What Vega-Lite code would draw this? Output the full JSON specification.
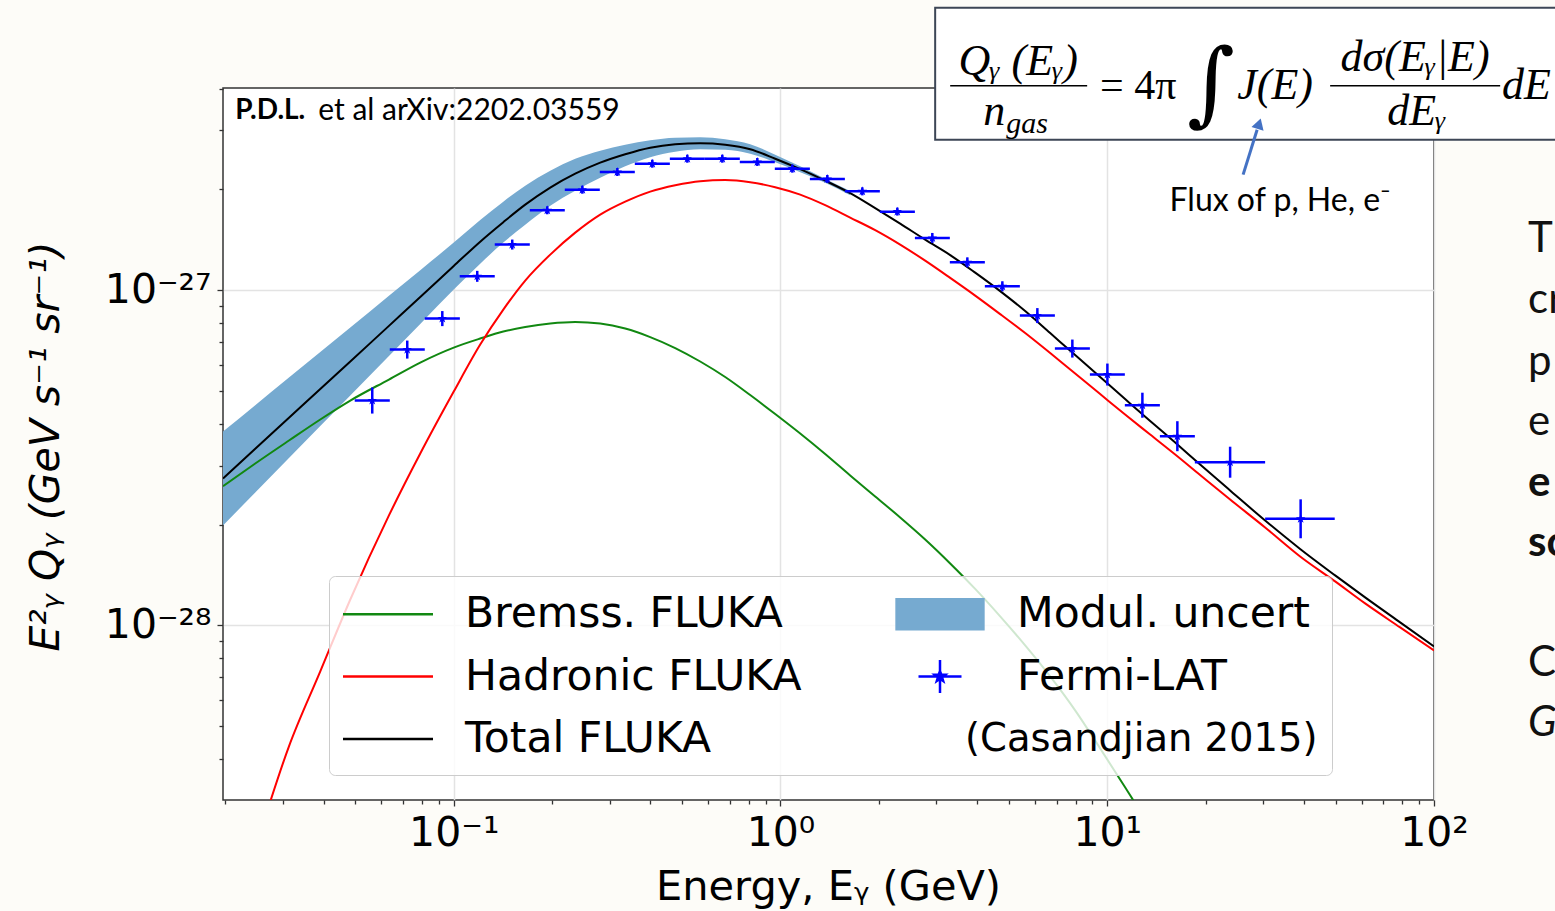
{
  "$schema": "https://vega.github.io/schema/vega-lite/v6.json",
  "width": 1211,
  "height": 712,
  "autosize": {"type": "none"},
  "padding": {"left": 223, "top": 88, "right": 121, "bottom": 111},
  "background": "#fdfcf8",
  "config": {
    "view": {"fill": "#ffffff", "stroke": "#333333", "strokeWidth": 1.5},
    "axis": {"domain": false, "labelFont": "DejaVu Sans", "titleFont": "DejaVu Sans", "labelColor": "#000000", "titleColor": "#000000", "titleFontWeight": "normal", "tickColor": "#333333", "tickWidth": 1.3, "gridColor": "#e3e3e3", "gridWidth": 1.5}
  },
  "encoding": {
    "x": {"field": "E", "type": "quantitative", "scale": {"type": "log", "domain": [0.01967, 100], "nice": false},
      "axis": {"grid": true, "values": [0.02, 0.03, 0.04, 0.05, 0.06, 0.07, 0.08, 0.09, 0.1, 0.2, 0.3, 0.4, 0.5, 0.6, 0.7, 0.8, 0.9, 1, 2, 3, 4, 5, 6, 7, 8, 9, 10, 20, 30, 40, 50, 60, 70, 80, 90, 100],
        "labelExpr": "datum.value == 0.1 ? '10⁻¹' : datum.value == 1 ? '10⁰' : datum.value == 10 ? '10¹' : datum.value == 100 ? '10²' : ''",
        "tickSize": {"condition": {"test": "abs(log(datum.value)/LN10 - round(log(datum.value)/LN10)) < 0.001", "value": 6}, "value": 4},
        "gridOpacity": {"condition": {"test": "abs(log(datum.value)/LN10 - round(log(datum.value)/LN10)) < 0.001", "value": 1}, "value": 0},
        "labelFontSize": 41, "labelPadding": 7, "labelOverlap": false, "labelFlush": false,
        "title": "Energy, Eᵧ (GeV)", "titleFontSize": 41.5, "titleX": 605, "titleY": 99, "titleBaseline": "alphabetic", "titleAlign": "center"}},
    "y": {"field": "Q", "type": "quantitative", "scale": {"type": "log", "domain": [3.013e-29, 4.015e-27], "nice": false},
      "axis": {"grid": true, "values": [4e-29, 5e-29, 6e-29, 7e-29, 8e-29, 9e-29, 1e-28, 2e-28, 3e-28, 4e-28, 5e-28, 6e-28, 7e-28, 8e-28, 9e-28, 1e-27, 2e-27, 3e-27, 4e-27],
        "labelExpr": "datum.value == 1e-27 ? '10⁻²⁷' : datum.value == 1e-28 ? '10⁻²⁸' : ''",
        "tickSize": {"condition": {"test": "abs(log(datum.value)/LN10 - round(log(datum.value)/LN10)) < 0.001", "value": 6}, "value": 4},
        "gridOpacity": {"condition": {"test": "abs(log(datum.value)/LN10 - round(log(datum.value)/LN10)) < 0.001", "value": 1}, "value": 0},
        "labelFontSize": 41, "labelPadding": 6, "labelOverlap": false, "labelFlush": false,
        "title": "E²ᵧ Qᵧ (GeV s⁻¹ sr⁻¹)", "titleFontSize": 41, "titleFontStyle": "italic", "titleX": -165, "titleY": 358, "titleBaseline": "alphabetic", "titleAngle": -90, "titleAlign": "center"}}
  },
  "datasets": {
    "band": [
      {"E": 0.01967, "Q": 1.987e-28, "Q2": 3.789e-28},
      {"E": 0.02469, "Q": 2.493e-28, "Q2": 4.543e-28},
      {"E": 0.03131, "Q": 3.157e-28, "Q2": 5.491e-28},
      {"E": 0.03904, "Q": 3.933e-28, "Q2": 6.546e-28},
      {"E": 0.04824, "Q": 4.853e-28, "Q2": 7.741e-28},
      {"E": 0.06334, "Q": 6.370e-28, "Q2": 9.629e-28},
      {"E": 0.07898, "Q": 7.933e-28, "Q2": 1.148e-27},
      {"E": 0.1, "Q": 1.005e-27, "Q2": 1.388e-27},
      {"E": 0.1205, "Q": 1.201e-27, "Q2": 1.620e-27},
      {"E": 0.1418, "Q": 1.388e-27, "Q2": 1.839e-27},
      {"E": 0.1655, "Q": 1.570e-27, "Q2": 2.052e-27},
      {"E": 0.1974, "Q": 1.789e-27, "Q2": 2.275e-27},
      {"E": 0.2354, "Q": 1.983e-27, "Q2": 2.470e-27},
      {"E": 0.2807, "Q": 2.168e-27, "Q2": 2.610e-27},
      {"E": 0.3348, "Q": 2.346e-27, "Q2": 2.720e-27},
      {"E": 0.3993, "Q": 2.496e-27, "Q2": 2.805e-27},
      {"E": 0.4762, "Q": 2.593e-27, "Q2": 2.854e-27},
      {"E": 0.5679, "Q": 2.637e-27, "Q2": 2.864e-27},
      {"E": 0.6773, "Q": 2.628e-27, "Q2": 2.824e-27},
      {"E": 0.8077, "Q": 2.557e-27, "Q2": 2.729e-27},
      {"E": 0.9634, "Q": 2.412e-27, "Q2": 2.539e-27},
      {"E": 1.149, "Q": 2.252e-27, "Q2": 2.346e-27},
      {"E": 1.370, "Q": 2.095e-27, "Q2": 2.154e-27},
      {"E": 1.634, "Q": 1.923e-27, "Q2": 1.977e-27}
    ],
    "curves": [
      {"series": "Bremss. FLUKA", "E": 0.01967, "Q": 2.602e-28},
      {"series": "Bremss. FLUKA", "E": 0.02469, "Q": 3.042e-28},
      {"series": "Bremss. FLUKA", "E": 0.03131, "Q": 3.562e-28},
      {"series": "Bremss. FLUKA", "E": 0.03904, "Q": 4.116e-28},
      {"series": "Bremss. FLUKA", "E": 0.04824, "Q": 4.688e-28},
      {"series": "Bremss. FLUKA", "E": 0.06334, "Q": 5.417e-28},
      {"series": "Bremss. FLUKA", "E": 0.07898, "Q": 6.088e-28},
      {"series": "Bremss. FLUKA", "E": 0.1, "Q": 6.747e-28},
      {"series": "Bremss. FLUKA", "E": 0.1205, "Q": 7.178e-28},
      {"series": "Bremss. FLUKA", "E": 0.1418, "Q": 7.530e-28},
      {"series": "Bremss. FLUKA", "E": 0.1655, "Q": 7.766e-28},
      {"series": "Bremss. FLUKA", "E": 0.1974, "Q": 7.955e-28},
      {"series": "Bremss. FLUKA", "E": 0.2354, "Q": 8.038e-28},
      {"series": "Bremss. FLUKA", "E": 0.2807, "Q": 7.955e-28},
      {"series": "Bremss. FLUKA", "E": 0.3348, "Q": 7.688e-28},
      {"series": "Bremss. FLUKA", "E": 0.3993, "Q": 7.251e-28},
      {"series": "Bremss. FLUKA", "E": 0.4762, "Q": 6.724e-28},
      {"series": "Bremss. FLUKA", "E": 0.5679, "Q": 6.131e-28},
      {"series": "Bremss. FLUKA", "E": 0.6773, "Q": 5.510e-28},
      {"series": "Bremss. FLUKA", "E": 0.8077, "Q": 4.868e-28},
      {"series": "Bremss. FLUKA", "E": 0.9634, "Q": 4.273e-28},
      {"series": "Bremss. FLUKA", "E": 1.149, "Q": 3.737e-28},
      {"series": "Bremss. FLUKA", "E": 1.370, "Q": 3.247e-28},
      {"series": "Bremss. FLUKA", "E": 1.634, "Q": 2.802e-28},
      {"series": "Bremss. FLUKA", "E": 1.949, "Q": 2.425e-28},
      {"series": "Bremss. FLUKA", "E": 2.324, "Q": 2.100e-28},
      {"series": "Bremss. FLUKA", "E": 2.772, "Q": 1.805e-28},
      {"series": "Bremss. FLUKA", "E": 3.306, "Q": 1.531e-28},
      {"series": "Bremss. FLUKA", "E": 3.943, "Q": 1.285e-28},
      {"series": "Bremss. FLUKA", "E": 4.702, "Q": 1.064e-28},
      {"series": "Bremss. FLUKA", "E": 5.608, "Q": 8.716e-29},
      {"series": "Bremss. FLUKA", "E": 6.688, "Q": 7.045e-29},
      {"series": "Bremss. FLUKA", "E": 7.976, "Q": 5.579e-29},
      {"series": "Bremss. FLUKA", "E": 9.512, "Q": 4.296e-29},
      {"series": "Bremss. FLUKA", "E": 11.34, "Q": 3.287e-29},
      {"series": "Bremss. FLUKA", "E": 13.53, "Q": 2.498e-29},
      {"series": "Bremss. FLUKA", "E": 16.14, "Q": 1.872e-29},
      {"series": "Hadronic FLUKA", "E": 0.01967, "Q": 1.081e-29},
      {"series": "Hadronic FLUKA", "E": 0.02469, "Q": 2.162e-29},
      {"series": "Hadronic FLUKA", "E": 0.03131, "Q": 4.357e-29},
      {"series": "Hadronic FLUKA", "E": 0.03904, "Q": 7.292e-29},
      {"series": "Hadronic FLUKA", "E": 0.04824, "Q": 1.195e-28},
      {"series": "Hadronic FLUKA", "E": 0.06334, "Q": 2.129e-28},
      {"series": "Hadronic FLUKA", "E": 0.07898, "Q": 3.258e-28},
      {"series": "Hadronic FLUKA", "E": 0.1, "Q": 4.987e-28},
      {"series": "Hadronic FLUKA", "E": 0.1205, "Q": 6.888e-28},
      {"series": "Hadronic FLUKA", "E": 0.1418, "Q": 8.757e-28},
      {"series": "Hadronic FLUKA", "E": 0.1655, "Q": 1.069e-27},
      {"series": "Hadronic FLUKA", "E": 0.1974, "Q": 1.278e-27},
      {"series": "Hadronic FLUKA", "E": 0.2354, "Q": 1.486e-27},
      {"series": "Hadronic FLUKA", "E": 0.2807, "Q": 1.682e-27},
      {"series": "Hadronic FLUKA", "E": 0.3348, "Q": 1.839e-27},
      {"series": "Hadronic FLUKA", "E": 0.3993, "Q": 1.970e-27},
      {"series": "Hadronic FLUKA", "E": 0.4762, "Q": 2.059e-27},
      {"series": "Hadronic FLUKA", "E": 0.5679, "Q": 2.117e-27},
      {"series": "Hadronic FLUKA", "E": 0.6773, "Q": 2.132e-27},
      {"series": "Hadronic FLUKA", "E": 0.8077, "Q": 2.102e-27},
      {"series": "Hadronic FLUKA", "E": 0.9634, "Q": 2.031e-27},
      {"series": "Hadronic FLUKA", "E": 1.149, "Q": 1.930e-27},
      {"series": "Hadronic FLUKA", "E": 1.370, "Q": 1.795e-27},
      {"series": "Hadronic FLUKA", "E": 1.634, "Q": 1.648e-27},
      {"series": "Hadronic FLUKA", "E": 1.949, "Q": 1.512e-27},
      {"series": "Hadronic FLUKA", "E": 2.324, "Q": 1.369e-27},
      {"series": "Hadronic FLUKA", "E": 2.772, "Q": 1.226e-27},
      {"series": "Hadronic FLUKA", "E": 3.306, "Q": 1.089e-27},
      {"series": "Hadronic FLUKA", "E": 3.943, "Q": 9.643e-28},
      {"series": "Hadronic FLUKA", "E": 4.702, "Q": 8.492e-28},
      {"series": "Hadronic FLUKA", "E": 5.608, "Q": 7.454e-28},
      {"series": "Hadronic FLUKA", "E": 6.688, "Q": 6.498e-28},
      {"series": "Hadronic FLUKA", "E": 7.976, "Q": 5.644e-28},
      {"series": "Hadronic FLUKA", "E": 9.512, "Q": 4.902e-28},
      {"series": "Hadronic FLUKA", "E": 11.34, "Q": 4.258e-28},
      {"series": "Hadronic FLUKA", "E": 13.53, "Q": 3.711e-28},
      {"series": "Hadronic FLUKA", "E": 16.14, "Q": 3.236e-28},
      {"series": "Hadronic FLUKA", "E": 19.24, "Q": 2.811e-28},
      {"series": "Hadronic FLUKA", "E": 23.77, "Q": 2.375e-28},
      {"series": "Hadronic FLUKA", "E": 30.42, "Q": 1.960e-28},
      {"series": "Hadronic FLUKA", "E": 38.93, "Q": 1.606e-28},
      {"series": "Hadronic FLUKA", "E": 49.82, "Q": 1.353e-28},
      {"series": "Hadronic FLUKA", "E": 61.54, "Q": 1.163e-28},
      {"series": "Hadronic FLUKA", "E": 78.77, "Q": 9.863e-29},
      {"series": "Hadronic FLUKA", "E": 100, "Q": 8.422e-29},
      {"series": "Total FLUKA", "E": 0.01967, "Q": 2.744e-28},
      {"series": "Total FLUKA", "E": 0.02469, "Q": 3.365e-28},
      {"series": "Total FLUKA", "E": 0.03131, "Q": 4.163e-28},
      {"series": "Total FLUKA", "E": 0.03904, "Q": 5.074e-28},
      {"series": "Total FLUKA", "E": 0.04824, "Q": 6.131e-28},
      {"series": "Total FLUKA", "E": 0.06334, "Q": 7.831e-28},
      {"series": "Total FLUKA", "E": 0.07898, "Q": 9.544e-28},
      {"series": "Total FLUKA", "E": 0.1, "Q": 1.182e-27},
      {"series": "Total FLUKA", "E": 0.1205, "Q": 1.397e-27},
      {"series": "Total FLUKA", "E": 0.1418, "Q": 1.597e-27},
      {"series": "Total FLUKA", "E": 0.1655, "Q": 1.801e-27},
      {"series": "Total FLUKA", "E": 0.1974, "Q": 2.025e-27},
      {"series": "Total FLUKA", "E": 0.2354, "Q": 2.228e-27},
      {"series": "Total FLUKA", "E": 0.2807, "Q": 2.404e-27},
      {"series": "Total FLUKA", "E": 0.3348, "Q": 2.548e-27},
      {"series": "Total FLUKA", "E": 0.3993, "Q": 2.665e-27},
      {"series": "Total FLUKA", "E": 0.4762, "Q": 2.729e-27},
      {"series": "Total FLUKA", "E": 0.5679, "Q": 2.748e-27},
      {"series": "Total FLUKA", "E": 0.6773, "Q": 2.720e-27},
      {"series": "Total FLUKA", "E": 0.8077, "Q": 2.637e-27},
      {"series": "Total FLUKA", "E": 0.9634, "Q": 2.470e-27},
      {"series": "Total FLUKA", "E": 1.149, "Q": 2.299e-27},
      {"series": "Total FLUKA", "E": 1.370, "Q": 2.124e-27},
      {"series": "Total FLUKA", "E": 1.634, "Q": 1.950e-27},
      {"series": "Total FLUKA", "E": 1.949, "Q": 1.759e-27},
      {"series": "Total FLUKA", "E": 2.324, "Q": 1.581e-27},
      {"series": "Total FLUKA", "E": 2.772, "Q": 1.416e-27},
      {"series": "Total FLUKA", "E": 3.306, "Q": 1.274e-27},
      {"series": "Total FLUKA", "E": 3.943, "Q": 1.129e-27},
      {"series": "Total FLUKA", "E": 4.702, "Q": 9.945e-28},
      {"series": "Total FLUKA", "E": 5.608, "Q": 8.670e-28},
      {"series": "Total FLUKA", "E": 6.688, "Q": 7.454e-28},
      {"series": "Total FLUKA", "E": 7.976, "Q": 6.408e-28},
      {"series": "Total FLUKA", "E": 9.512, "Q": 5.510e-28},
      {"series": "Total FLUKA", "E": 11.34, "Q": 4.737e-28},
      {"series": "Total FLUKA", "E": 13.53, "Q": 4.073e-28},
      {"series": "Total FLUKA", "E": 16.14, "Q": 3.514e-28},
      {"series": "Total FLUKA", "E": 19.24, "Q": 3.021e-28},
      {"series": "Total FLUKA", "E": 23.77, "Q": 2.527e-28},
      {"series": "Total FLUKA", "E": 30.42, "Q": 2.056e-28},
      {"series": "Total FLUKA", "E": 38.93, "Q": 1.691e-28},
      {"series": "Total FLUKA", "E": 49.82, "Q": 1.410e-28},
      {"series": "Total FLUKA", "E": 61.54, "Q": 1.212e-28},
      {"series": "Total FLUKA", "E": 78.77, "Q": 1.021e-28},
      {"series": "Total FLUKA", "E": 100, "Q": 8.658e-29}
    ],
    "fermi_h": [
      {"E": 0.04977, "E2": 0.06372, "Q": 4.688e-28},
      {"E": 0.06371, "E2": 0.08153, "Q": 6.654e-28},
      {"E": 0.08153, "E2": 0.1044, "Q": 8.234e-28},
      {"E": 0.1043, "E2": 0.1335, "Q": 1.101e-27},
      {"E": 0.1335, "E2": 0.1709, "Q": 1.369e-27},
      {"E": 0.1709, "E2": 0.2187, "Q": 1.733e-27},
      {"E": 0.2187, "E2": 0.2799, "Q": 1.996e-27},
      {"E": 0.2799, "E2": 0.3582, "Q": 2.254e-27},
      {"E": 0.3582, "E2": 0.4585, "Q": 2.387e-27},
      {"E": 0.4585, "E2": 0.5867, "Q": 2.470e-27},
      {"E": 0.5867, "E2": 0.7507, "Q": 2.470e-27},
      {"E": 0.7507, "E2": 0.9607, "Q": 2.414e-27},
      {"E": 0.9607, "E2": 1.230, "Q": 2.307e-27},
      {"E": 1.230, "E2": 1.574, "Q": 2.149e-27},
      {"E": 1.574, "E2": 2.014, "Q": 1.974e-27},
      {"E": 2.014, "E2": 2.578, "Q": 1.717e-27},
      {"E": 2.578, "E2": 3.298, "Q": 1.433e-27},
      {"E": 3.298, "E2": 4.221, "Q": 1.212e-27},
      {"E": 4.221, "E2": 5.402, "Q": 1.028e-27},
      {"E": 5.402, "E2": 6.914, "Q": 8.404e-28},
      {"E": 6.914, "E2": 8.848, "Q": 6.700e-28},
      {"E": 8.848, "E2": 11.32, "Q": 5.606e-28},
      {"E": 11.32, "E2": 14.49, "Q": 4.539e-28},
      {"E": 14.49, "E2": 18.54, "Q": 3.669e-28},
      {"E": 18.54, "E2": 30.42, "Q": 3.069e-28},
      {"E": 30.42, "E2": 49.68, "Q": 2.080e-28}
    ],
    "fermi_v": [
      {"E": 0.05631, "Q": 4.287e-28, "Q2": 5.127e-28},
      {"E": 0.07206, "Q": 6.255e-28, "Q2": 7.079e-28},
      {"E": 0.09225, "Q": 7.818e-28, "Q2": 8.670e-28},
      {"E": 0.1180, "Q": 1.060e-27, "Q2": 1.143e-27},
      {"E": 0.1510, "Q": 1.323e-27, "Q2": 1.417e-27},
      {"E": 0.1933, "Q": 1.686e-27, "Q2": 1.781e-27},
      {"E": 0.2475, "Q": 1.942e-27, "Q2": 2.052e-27},
      {"E": 0.3167, "Q": 2.193e-27, "Q2": 2.317e-27},
      {"E": 0.4052, "Q": 2.322e-27, "Q2": 2.453e-27},
      {"E": 0.5186, "Q": 2.403e-27, "Q2": 2.539e-27},
      {"E": 0.6636, "Q": 2.403e-27, "Q2": 2.539e-27},
      {"E": 0.8492, "Q": 2.350e-27, "Q2": 2.482e-27},
      {"E": 1.087, "Q": 2.244e-27, "Q2": 2.371e-27},
      {"E": 1.391, "Q": 2.091e-27, "Q2": 2.209e-27},
      {"E": 1.780, "Q": 1.920e-27, "Q2": 2.029e-27},
      {"E": 2.278, "Q": 1.671e-27, "Q2": 1.765e-27},
      {"E": 2.915, "Q": 1.385e-27, "Q2": 1.483e-27},
      {"E": 3.731, "Q": 1.171e-27, "Q2": 1.254e-27},
      {"E": 4.775, "Q": 9.93e-28, "Q2": 1.064e-27},
      {"E": 6.111, "Q": 7.984e-28, "Q2": 8.849e-28},
      {"E": 7.820, "Q": 6.298e-28, "Q2": 7.129e-28},
      {"E": 10.01, "Q": 5.198e-28, "Q2": 6.045e-28},
      {"E": 12.81, "Q": 4.166e-28, "Q2": 4.948e-28},
      {"E": 16.39, "Q": 3.310e-28, "Q2": 4.068e-28},
      {"E": 23.77, "Q": 2.759e-28, "Q2": 3.414e-28},
      {"E": 39.07, "Q": 1.820e-28, "Q2": 2.378e-28}
    ],
    "fermi_c": [
      {"E": 0.05631, "Q": 4.688e-28},
      {"E": 0.07206, "Q": 6.654e-28},
      {"E": 0.09225, "Q": 8.234e-28},
      {"E": 0.1180, "Q": 1.101e-27},
      {"E": 0.1510, "Q": 1.369e-27},
      {"E": 0.1933, "Q": 1.733e-27},
      {"E": 0.2475, "Q": 1.996e-27},
      {"E": 0.3167, "Q": 2.254e-27},
      {"E": 0.4052, "Q": 2.387e-27},
      {"E": 0.5186, "Q": 2.470e-27},
      {"E": 0.6636, "Q": 2.470e-27},
      {"E": 0.8492, "Q": 2.414e-27},
      {"E": 1.087, "Q": 2.307e-27},
      {"E": 1.391, "Q": 2.149e-27},
      {"E": 1.780, "Q": 1.974e-27},
      {"E": 2.278, "Q": 1.717e-27},
      {"E": 2.915, "Q": 1.433e-27},
      {"E": 3.731, "Q": 1.212e-27},
      {"E": 4.775, "Q": 1.028e-27},
      {"E": 6.111, "Q": 8.404e-28},
      {"E": 7.820, "Q": 6.700e-28},
      {"E": 10.01, "Q": 5.606e-28},
      {"E": 12.81, "Q": 4.539e-28},
      {"E": 16.39, "Q": 3.669e-28},
      {"E": 23.77, "Q": 3.069e-28},
      {"E": 39.07, "Q": 2.080e-28}
    ]
  },
  "layer": [
    {
      "data": {"name": "band"},
      "mark": {"type": "area", "color": "#76aad0", "opacity": 1, "clip": true, "interpolate": "monotone"},
      "encoding": {"y2": {"field": "Q2"}}
    },
    {
      "data": {"name": "curves"},
      "mark": {"type": "line", "clip": true, "strokeWidth": 2, "interpolate": "monotone"},
      "encoding": {
        "color": {"field": "series", "type": "nominal",
          "scale": {"domain": ["Bremss. FLUKA", "Hadronic FLUKA", "Total FLUKA", "Modul. uncert", "Fermi-LAT", "(Casandjian 2015)"], "range": ["#118811", "#ff0000", "#000000", "#76aad0", "#0000ff", "#ffffff"]},
          "legend": {"title": null, "orient": "none", "legendX": 106, "legendY": 488, "columns": 2,
            "symbolSize": 2025, "symbolStrokeWidth": 2.5, "symbolOffset": 21, "labelOffset": 53,
            "labelFont": "DejaVu Sans", "labelFontSize": 42.5, "labelColor": "#000000", "labelLimit": 1000,
            "rowPadding": 16.5, "columnPadding": 89, "padding": 14,
            "fillColor": "rgba(255,255,255,0.8)", "strokeColor": "#cccccc", "cornerRadius": 6,
            "encode": {
              "symbols": {"update": {
                "shape": {"signal": "datum.value === 'Modul. uncert' ? 'M-1.93,-0.67H1.93V0.67H-1.93Z' : datum.value === 'Fermi-LAT' ? 'M-0.956,0H0.956M0,-0.733V0.733M0,-0.24L0.06,-0.08L0.23,-0.08L0.09,0.03L0.14,0.2L0,0.1L-0.14,0.2L-0.09,0.03L-0.23,-0.08L-0.06,-0.08Z' : 'M-2,0H2'"},
                "fill": {"signal": "datum.value === 'Modul. uncert' ? '#76aad0' : datum.value === 'Fermi-LAT' ? '#0000ff' : 'transparent'"},
                "stroke": {"signal": "datum.value === 'Bremss. FLUKA' ? '#2a962a' : datum.value === 'Hadronic FLUKA' ? '#ff3030' : datum.value === 'Total FLUKA' ? '#333333' : datum.value === 'Fermi-LAT' ? '#0000ff' : 'transparent'"},
                "strokeWidth": {"value": 2.5},
                "opacity": {"signal": "datum.value === '(Casandjian 2015)' ? 0 : 1"}
              }},
              "labels": {"update": {
                "dx": {"signal": "datum.value === '(Casandjian 2015)' ? -52 : 0"},
                "fontSize": {"signal": "datum.value === '(Casandjian 2015)' ? 38.5 : 42.5"}
              }}
            }
          }
        }
      }
    },
    {
      "data": {"name": "fermi_h"},
      "mark": {"type": "rule", "color": "#0000ff", "strokeWidth": 2.5, "clip": true},
      "encoding": {"x2": {"field": "E2"}}
    },
    {
      "data": {"name": "fermi_v"},
      "mark": {"type": "rule", "color": "#0000ff", "strokeWidth": 2.5, "clip": true},
      "encoding": {"y2": {"field": "Q2"}}
    },
    {
      "data": {"name": "fermi_c"},
      "mark": {"type": "point", "filled": true, "color": "#0000ff", "opacity": 1, "size": 100, "shape": "M0,-1L0.2245,-0.309L0.951,-0.309L0.363,0.118L0.588,0.809L0,0.382L-0.588,0.809L-0.363,0.118L-0.951,-0.309L-0.2245,-0.309Z", "clip": true}
    },
    {
      "data": {"values": [{"E": 2.974, "E2": 400, "Q": 2.814e-27, "Q2": 6.967e-27}]},
      "mark": {"type": "rect", "fill": "#ffffff", "stroke": "#3d4656", "strokeWidth": 2},
      "encoding": {"x2": {"field": "E2"}, "y2": {"field": "Q2"}}
    },
    {
      "data": {"values": [{"E": 3.306, "E2": 8.680, "Q": 4.078e-27}, {"E": 48.10, "E2": 159.4, "Q": 4.078e-27}]},
      "mark": {"type": "rule", "color": "#000000", "strokeWidth": 1.6},
      "encoding": {"x2": {"field": "E2"}}
    },
    {
      "data": {"values": [{"t": "Qᵧ (Eᵧ)", "E": 5.339, "Q": 4.809e-27}, {"t": "dσ(Eᵧ|E)", "E": 87.54, "Q": 4.943e-27}, {"t": "dEᵧ", "E": 88.5, "Q": 3.412e-27}]},
      "mark": {"type": "text", "font": "Liberation Serif", "fontStyle": "italic", "fontSize": 44, "align": "center", "baseline": "middle", "color": "#000000"},
      "encoding": {"text": {"field": "t"}}
    },
    {
      "data": {"values": [{"t": "J(E)", "E": 25.0, "Q": 4.078e-27}, {"t": "dE", "E": 161.6, "Q": 4.078e-27}, {"t": "n", "E": 4.17, "Q": 3.412e-27}]},
      "mark": {"type": "text", "font": "Liberation Serif", "fontStyle": "italic", "fontSize": 44, "align": "left", "baseline": "middle", "color": "#000000"},
      "encoding": {"text": {"field": "t"}}
    },
    {
      "data": {"values": [{"t": "gas", "E": 4.905, "Q": 3.143e-27}]},
      "mark": {"type": "text", "font": "Liberation Serif", "fontStyle": "italic", "fontSize": 30, "align": "left", "baseline": "middle", "color": "#000000"},
      "encoding": {"text": {"field": "t"}}
    },
    {
      "data": {"values": [{"t": "= 4π", "E": 9.51, "Q": 4.078e-27}]},
      "mark": {"type": "text", "font": "Liberation Serif", "fontSize": 42, "align": "left", "baseline": "middle", "color": "#000000"},
      "encoding": {"text": {"field": "t"}}
    },
    {
      "data": {"values": [{"t": "∫", "E": 20.79, "Q": 4.078e-27}]},
      "mark": {"type": "text", "font": "DejaVu Serif", "fontSize": 92, "align": "center", "baseline": "middle", "color": "#000000"},
      "encoding": {"text": {"field": "t"}}
    },
    {
      "data": {"values": [{"E": 26.05, "Q": 2.214e-27, "E2": 28.75, "Q2": 3.015e-27}]},
      "mark": {"type": "rule", "color": "#4472c4", "strokeWidth": 3},
      "encoding": {"x2": {"field": "E2"}, "y2": {"field": "Q2"}}
    },
    {
      "data": {"values": [{"E": 29.16, "Q": 3.143e-27}]},
      "mark": {"type": "point", "shape": "triangle-up", "filled": true, "color": "#4472c4", "opacity": 1, "size": 160, "angle": 17}
    },
    {
      "data": {"values": [{"t": "Flux of p, He, e⁻", "E": 33.81, "Q": 1.852e-27}]},
      "mark": {"type": "text", "font": "Lato", "fontSize": 32, "align": "center", "baseline": "middle", "color": "#000000"},
      "encoding": {"text": {"field": "t"}}
    },
    {
      "data": {"values": [{"t": "P.D.L.", "E": 0.02145, "Q": 3.436e-27}]},
      "mark": {"type": "text", "font": "Lato", "fontWeight": "bold", "fontSize": 28, "align": "left", "baseline": "middle", "color": "#000000"},
      "encoding": {"text": {"field": "t"}}
    },
    {
      "data": {"values": [{"t": "et al arXiv:2202.03559", "E": 0.03849, "Q": 3.436e-27}]},
      "mark": {"type": "text", "font": "Lato", "fontSize": 30, "align": "left", "baseline": "middle", "color": "#000000"},
      "encoding": {"text": {"field": "t"}}
    },
    {
      "data": {"values": [{"t": "T", "E": 194.1, "Q": 1.304e-27}, {"t": "cr", "E": 194.1, "Q": 8.580e-28}, {"t": "p", "E": 194.1, "Q": 5.606e-28}, {"t": "e", "E": 194.1, "Q": 3.711e-28}, {"t": "C", "E": 194.1, "Q": 7.045e-29}]},
      "mark": {"type": "text", "font": "Lato", "fontSize": 42, "align": "left", "baseline": "alphabetic", "color": "#111111"},
      "encoding": {"text": {"field": "t"}}
    },
    {
      "data": {"values": [{"t": "e", "E": 194.1, "Q": 2.425e-28}, {"t": "sc", "E": 194.1, "Q": 1.606e-28}]},
      "mark": {"type": "text", "font": "Lato", "fontWeight": "bold", "fontSize": 42, "align": "left", "baseline": "alphabetic", "color": "#111111"},
      "encoding": {"text": {"field": "t"}}
    },
    {
      "data": {"values": [{"t": "G", "E": 194.1, "Q": 4.667e-29}]},
      "mark": {"type": "text", "font": "Lato", "fontStyle": "italic", "fontSize": 42, "align": "left", "baseline": "alphabetic", "color": "#111111"},
      "encoding": {"text": {"field": "t"}}
    }
  ]
}
